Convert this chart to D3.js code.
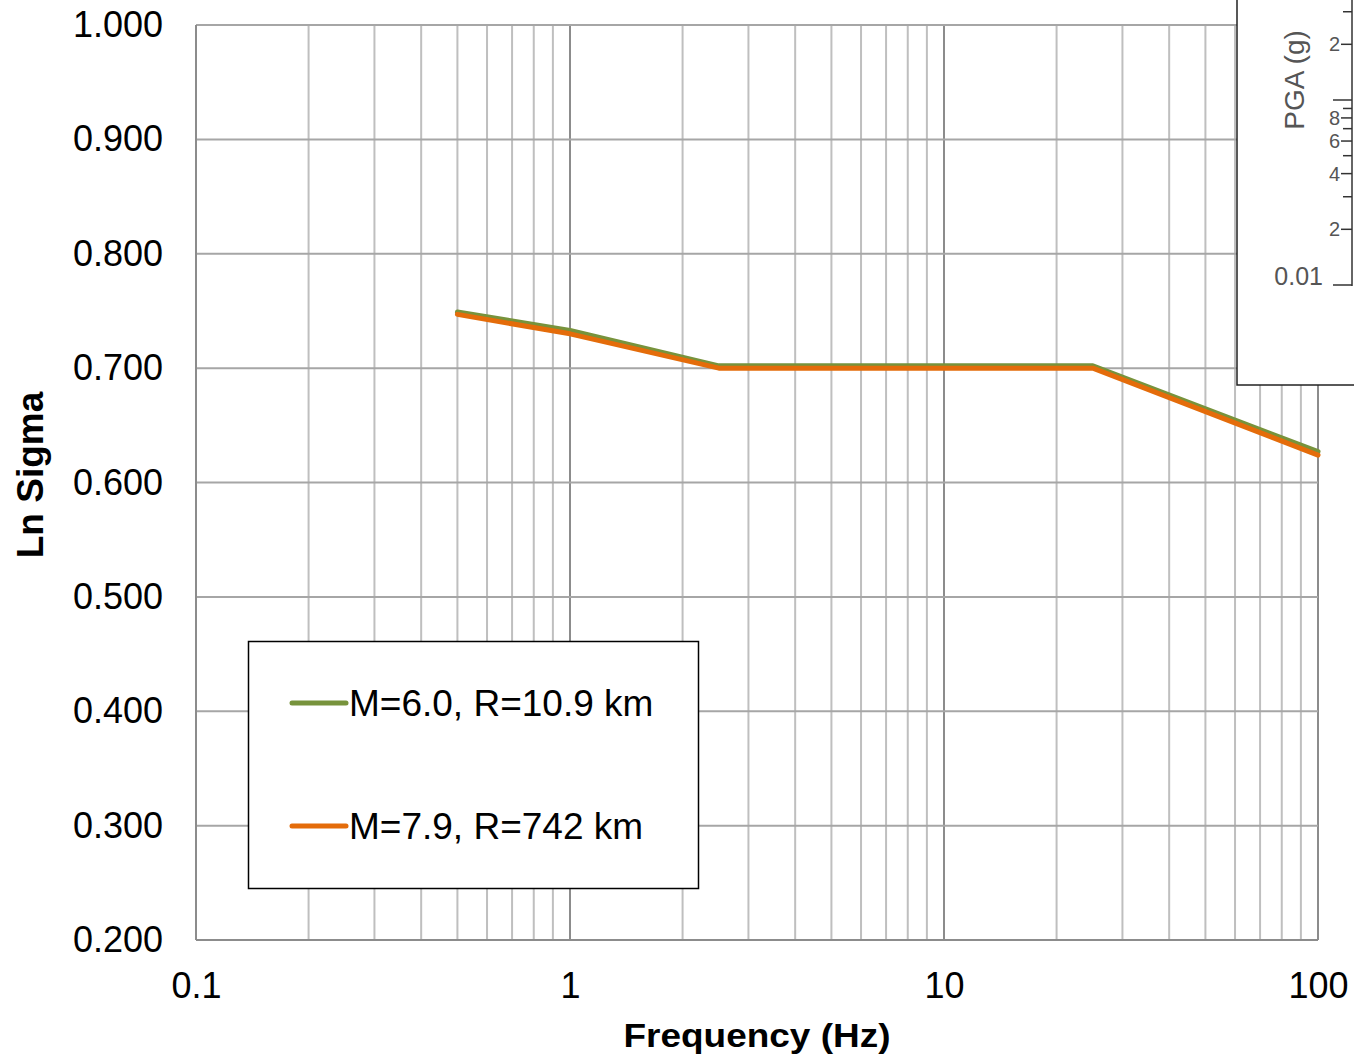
<!DOCTYPE html>
<html>
<head>
<meta charset="utf-8">
<script src="https://cdn.jsdelivr.net/npm/d3@7"></script>
<style>
  html, body { margin: 0; padding: 0; background: #fff; }
  svg { display: block; font-family: "Liberation Sans", Arial, sans-serif; }
</style>
</head>
<body>
<svg id="chart" width="1354" height="1056"></svg>
<script>
// ---- data ----
const frequencies = [0.5, 1, 2.5, 25, 100];
const sigmaM60 = [0.749, 0.733, 0.702, 0.702, 0.627];
const sigmaM79 = [0.747, 0.730, 0.700, 0.700, 0.624];
const seriesNames = ["M=6.0, R=10.9 km", "M=7.9, R=742 km"];
const seriesColors = ["#77933C", "#E46C0A"];
const yTicks = [0.2, 0.3, 0.4, 0.5, 0.6, 0.7, 0.8, 0.9, 1.0];
const xTickLabels = ["0.1", "1", "10", "100"];
const xTickValues = [0.1, 1, 10, 100];
const xTitle = "Frequency (Hz)";
const yTitle = "Ln Sigma";
// overlay fragment (inset of another chart at top right)
const insetTitle = "PGA (g)";
const insetTickValues = [0.01, 0.02, 0.03, 0.04, 0.05, 0.06, 0.07, 0.08, 0.09, 0.1, 0.2, 0.3];
const insetTickLabels = ["0.01", "2", "", "4", "", "6", "", "8", "", "", "2", ""];

const svg = d3.select("#chart");
const W = 1354, H = 1056;
const m = { left: 196, top: 25, right: 1354 - 1318, bottom: 1056 - 940 };
const pw = W - m.left - m.right, ph = H - m.top - m.bottom;

const x = d3.scaleLog().domain([0.1, 100]).range([m.left, m.left + pw]);
const y = d3.scaleLinear().domain([0.2, 1.0]).range([m.top + ph, m.top]);

// minor / major vertical gridlines
const vgrid = [];
for (let d = 0.1; d < 100; d *= 10) {
  for (let k = 1; k <= 10; k++) vgrid.push(+(d * k).toPrecision(3));
}
const uniqV = Array.from(new Set(vgrid));
const g = svg.append("g");
g.selectAll("line.v").data(uniqV).join("line")
  .attr("x1", d => x(d)).attr("x2", d => x(d))
  .attr("y1", m.top).attr("y2", m.top + ph)
  .attr("stroke", d => (xTickValues.includes(d) ? "#8c8c8c" : "#bfbfbf"))
  .attr("stroke-width", 2);

g.selectAll("line.h").data(yTicks).join("line")
  .attr("x1", m.left).attr("x2", m.left + pw)
  .attr("y1", d => y(d)).attr("y2", d => y(d))
  .attr("stroke", d => (d === 0.2 ? "#8c8c8c" : "#a6a6a6"))
  .attr("stroke-width", 2);

// left axis line
g.append("line").attr("x1", m.left).attr("x2", m.left)
  .attr("y1", m.top).attr("y2", m.top + ph)
  .attr("stroke", "#8c8c8c").attr("stroke-width", 2);

// y tick labels
const yAxis = d3.axisLeft(y).tickValues(yTicks).tickFormat(d3.format(".3f")).tickSize(0).tickPadding(33);
const ya = svg.append("g").attr("transform", `translate(${m.left},0)`).call(yAxis);
ya.select(".domain").remove();
ya.selectAll("text").attr("font-size", 36).attr("fill", "#000")
  .attr("font-family", "Liberation Sans, Arial, sans-serif");

// x tick labels
const xAxis = d3.axisBottom(x).tickValues(xTickValues).tickFormat((d, i) => xTickLabels[i]).tickSize(0).tickPadding(32);
const xa = svg.append("g").attr("transform", `translate(0,${m.top + ph})`).call(xAxis);
xa.select(".domain").remove();
xa.selectAll("text").attr("font-size", 36).attr("fill", "#000")
  .attr("font-family", "Liberation Sans, Arial, sans-serif");

// lines
const line = d3.line().x(d => x(d[0])).y(d => y(d[1]));
const seriesData = [sigmaM60, sigmaM79];
seriesData.forEach((vals, i) => {
  svg.append("path")
    .datum(frequencies.map((f, j) => [f, vals[j]]))
    .attr("d", line)
    .attr("fill", "none")
    .attr("stroke", seriesColors[i])
    .attr("stroke-width", 5)
    .attr("stroke-linejoin", "round")
    .attr("stroke-linecap", "round");
});

// legend
const lg = svg.append("g");
lg.append("rect").attr("x", 248.5).attr("y", 641.5).attr("width", 450).attr("height", 247)
  .attr("fill", "#fff").attr("stroke", "#000").attr("stroke-width", 1.5);
const legY = [703, 826];
seriesNames.forEach((name, i) => {
  lg.append("line").attr("x1", 292).attr("x2", 346).attr("y1", legY[i]).attr("y2", legY[i])
    .attr("stroke", seriesColors[i]).attr("stroke-width", 5).attr("stroke-linecap", "round");
  lg.append("text").attr("x", 349).attr("y", legY[i] + 12.5).attr("font-size", 37)
    .attr("fill", "#000").text(name);
});

// axis titles
svg.append("text").attr("x", m.left + pw / 2).attr("y", 1047)
  .attr("text-anchor", "middle").attr("font-size", 34).attr("font-weight", "bold")
  .attr("textLength", 267).attr("lengthAdjust", "spacingAndGlyphs")
  .text(xTitle);
svg.append("text").attr("transform", "translate(43,475) rotate(-90)")
  .attr("text-anchor", "middle").attr("font-size", 37).attr("font-weight", "bold")
  .text(yTitle);

// ---- inset fragment (top right) ----
const ins = svg.append("g");
ins.append("rect").attr("x", 1237).attr("y", -2).attr("width", 130).attr("height", 387)
  .attr("fill", "#fff").attr("stroke", "#222").attr("stroke-width", 1.5);
const iy = d3.scaleLog().domain([0.01, 0.1]).range([285, 100]);
ins.append("line").attr("x1", 1352).attr("x2", 1352).attr("y1", 0).attr("y2", 286)
  .attr("stroke", "#333").attr("stroke-width", 1.5);
ins.selectAll("line.t").data(insetTickValues).join("line")
  .attr("x1", (d, i) => (d === 0.01 || d === 0.1 ? 1333 : (insetTickLabels[i] === "" ? 1343 : 1341)))
  .attr("x2", 1352)
  .attr("y1", d => iy(d)).attr("y2", d => iy(d))
  .attr("stroke", "#333").attr("stroke-width", 1.5);
ins.selectAll("text.t").data(insetTickValues).join("text")
  .attr("x", (d, i) => (i === 0 ? 1323 : 1340))
  .attr("y", d => iy(d))
  .attr("dy", (d, i) => (i === 0 ? "0em" : "0.35em"))
  .attr("text-anchor", "end")
  .attr("font-size", (d, i) => (i === 0 ? 25 : 20))
  .attr("fill", "#555")
  .text((d, i) => insetTickLabels[i]);
ins.append("text").attr("transform", "translate(1304,80) rotate(-90)")
  .attr("text-anchor", "middle").attr("font-size", 28).attr("fill", "#555")
  .text(insetTitle);
</script>
</body>
</html>
